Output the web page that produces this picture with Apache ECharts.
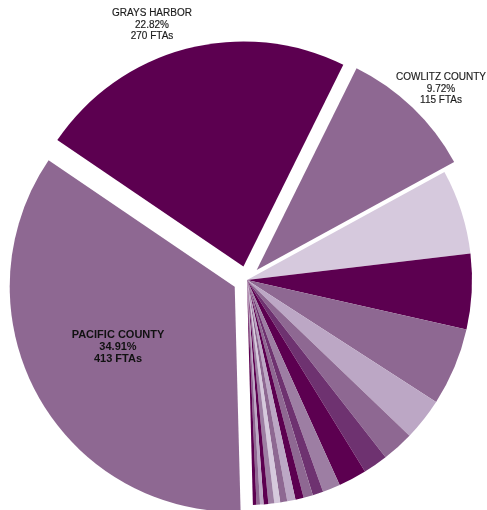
<!DOCTYPE html>
<html>
<head>
<meta charset="utf-8">
<script src="https://cdn.jsdelivr.net/npm/echarts@6/dist/echarts.min.js"></script>
<style>
  html, body { margin: 0; padding: 0; background: #fff; }
  #main { width: 487px; height: 510px; }
</style>
</head>
<body>
<div id="main"></div>
<script>
// slices in clockwise order, starting at 6 o'clock
var names = ['PACIFIC COUNTY', 'GRAYS HARBOR', 'COWLITZ COUNTY', 'LEWIS COUNTY', 'MASON COUNTY',
  'THURSTON COUNTY', 'CLARK COUNTY', 'WAHKIAKUM COUNTY', 'JEFFERSON COUNTY', 'CLALLAM COUNTY',
  'KITSAP COUNTY', 'PIERCE COUNTY', 'KING COUNTY', 'SKAMANIA COUNTY', 'KLICKITAT COUNTY',
  'SNOHOMISH COUNTY', 'SKAGIT COUNTY', 'WHATCOM COUNTY', 'ISLAND COUNTY', 'SAN JUAN COUNTY',
  'YAKIMA COUNTY', 'OTHER'];
var ftas = [413, 270, 115, 72, 64, 66, 36, 27, 21, 24, 15, 9, 8, 7, 7, 6, 5, 5, 4, 3, 3, 3];
var colors = ['#8e6892', '#5c0050', '#8e6892', '#d6c9dd', '#5c0050', '#8e6892', '#bca7c5',
  '#8e6892', '#6e3270', '#5c0050', '#9d7ea3', '#6e3270', '#8e6892', '#5c0050', '#bca7c5',
  '#8e6892', '#d6c9dd', '#9d7ea3', '#5c0050', '#bca7c5', '#8e6892', '#5c0050'];
var labelled = [0, 1, 2];   // slices with a label, all pulled out
var labelPos = [[118, 347], [152, 25], [441, 89]];

var total = ftas.reduce(function (a, b) { return a + b; }, 0);

var data = names.map(function (n, i) {
  return {
    name: n,
    value: ftas[i],
    selected: labelled.indexOf(i) >= 0,
    itemStyle: { color: colors[i] },
    select: { itemStyle: { color: colors[i] } }
  };
});

// the pie's own label placement ignored offsets, so the three labels are drawn as text
var labels = labelled.map(function (i, k) {
  var big = i === 0;
  return {
    type: 'text',
    z: 100,
    zlevel: 1,
    x: labelPos[k][0],
    y: labelPos[k][1],
    style: {
      text: names[i] + '\n' + (ftas[i] / total * 100).toFixed(2) + '%\n' + ftas[i] + ' FTAs',
      font: (big ? 'bold 11px' : '10px') + ' "Liberation Sans", Arial, sans-serif',
      lineHeight: big ? 12 : 11.5,
      fill: big ? '#111' : '#1a1a1a',
      stroke: big ? null : '#555',
      lineWidth: big ? 0 : 0.2,
      align: 'center',
      verticalAlign: 'middle'
    }
  };
});

var myChart = echarts.init(document.getElementById('main'));
var option = {
  animation: false,
  graphic: labels,
  series: [{
    type: 'pie',
    center: [247, 280],
    radius: 225,
    startAngle: -88.5,
    clockwise: true,
    selectedMode: 'multiple',
    selectedOffset: 14,
    emphasis: { disabled: true },
    label: { show: false },
    labelLine: { show: false },
    data: data
  }]
};
myChart.setOption(option);
</script>
</body>
</html>
